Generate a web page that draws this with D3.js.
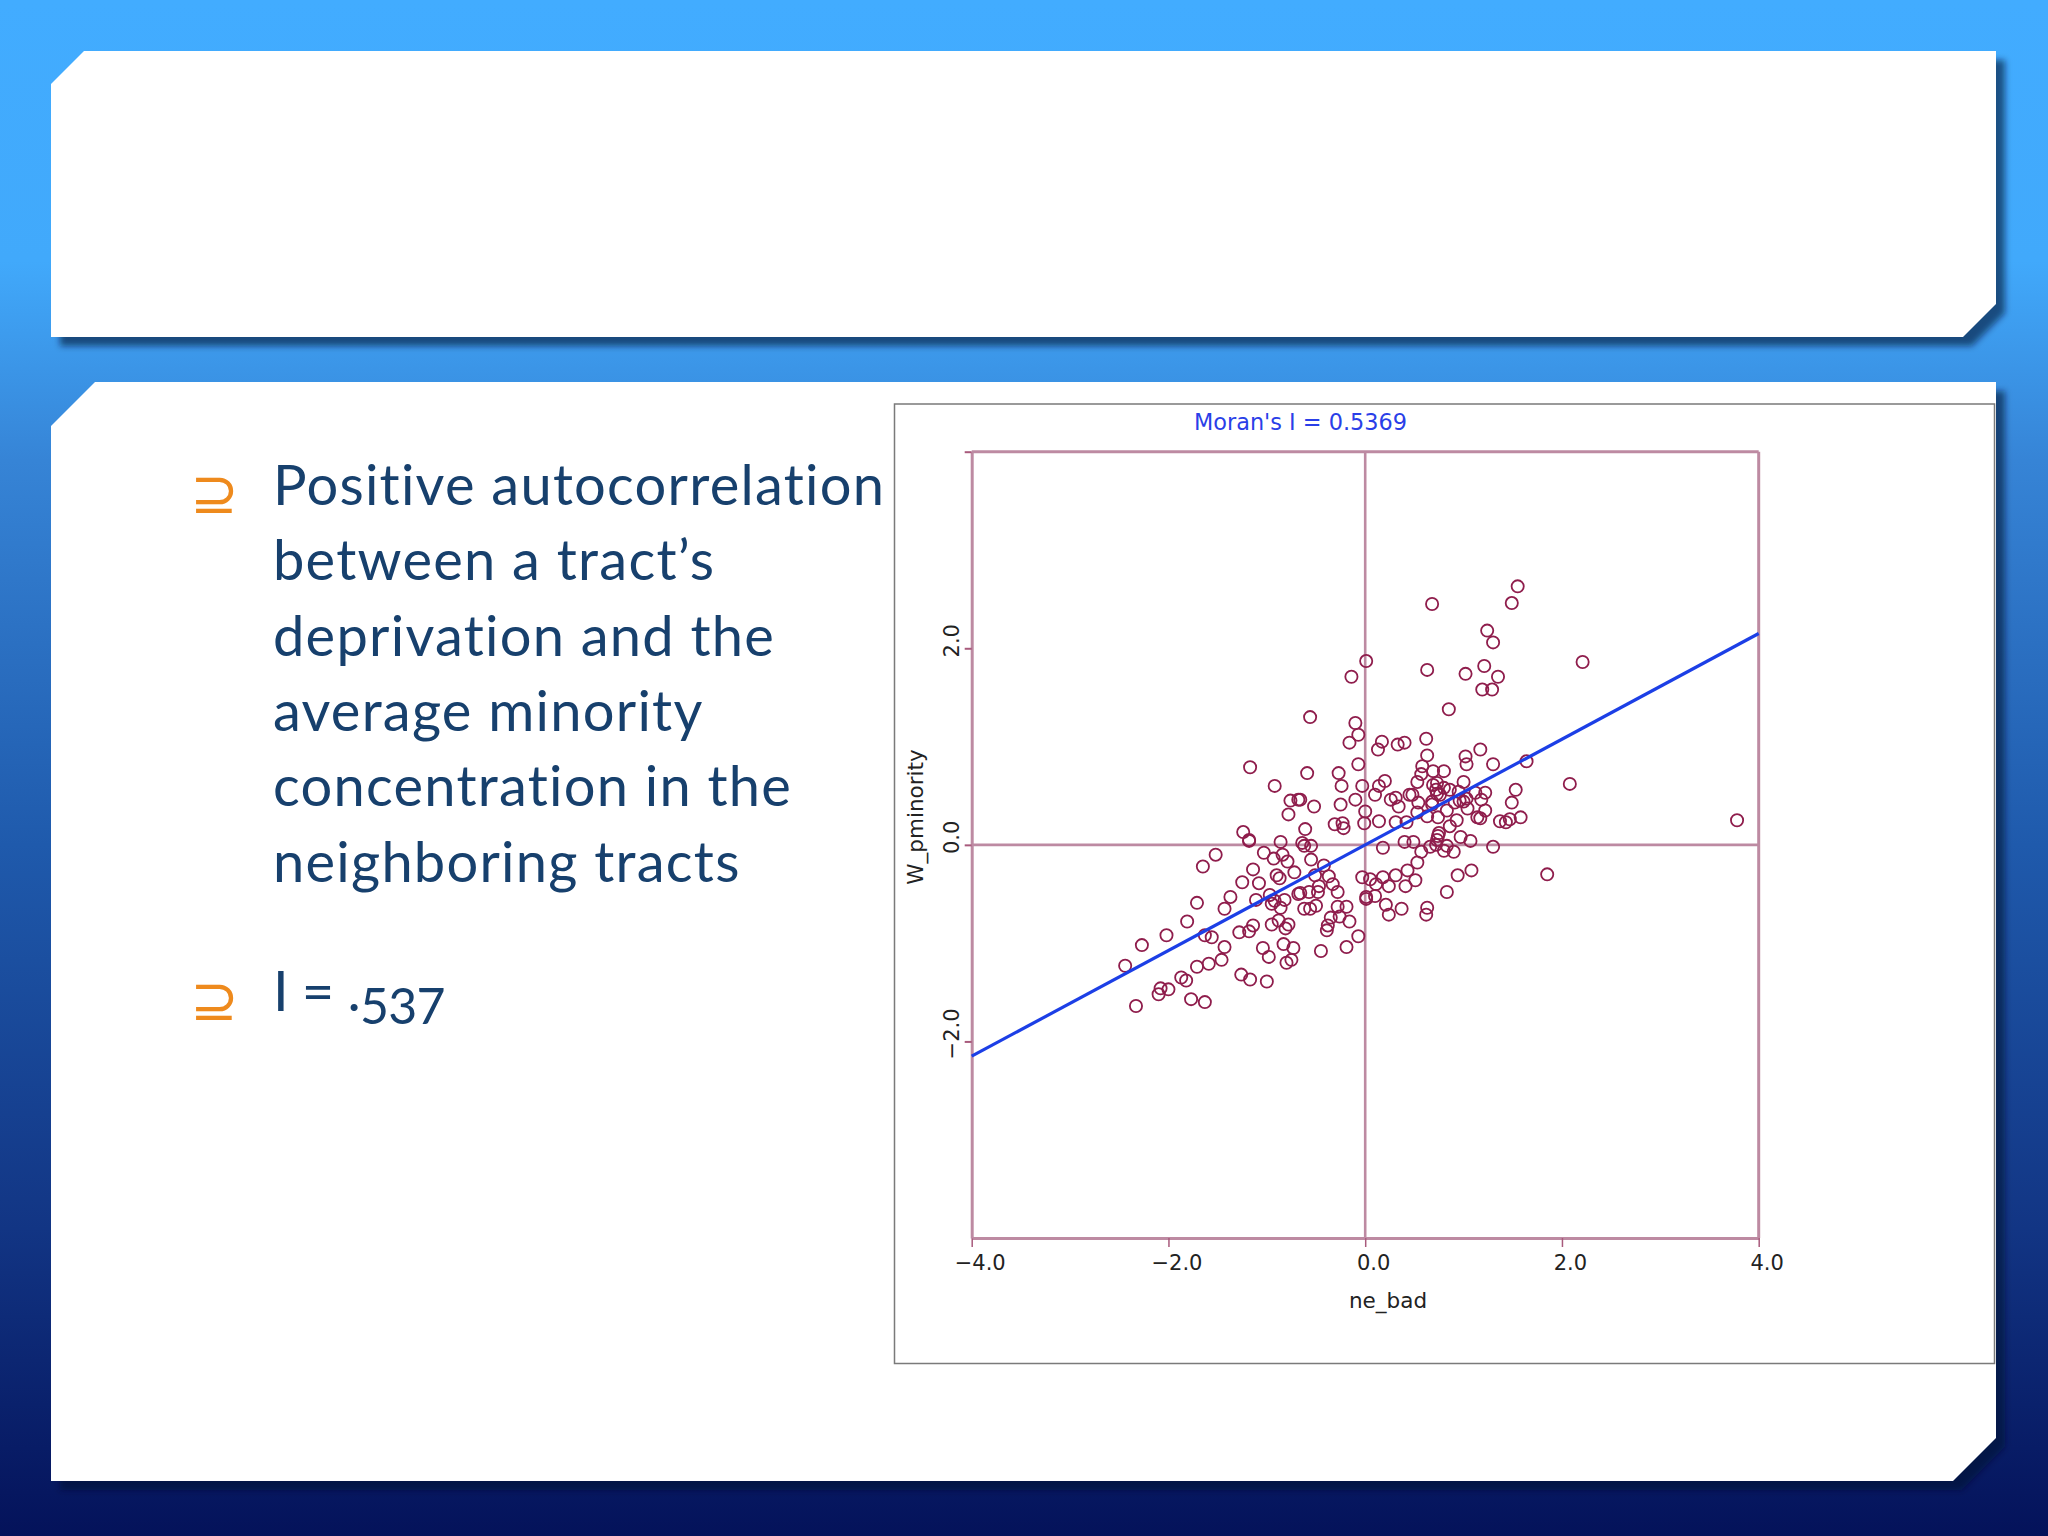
<!DOCTYPE html>
<html>
<head>
<meta charset="utf-8">
<script src="https://cdn.jsdelivr.net/npm/d3@7"></script>
<style>
  html, body { margin: 0; padding: 0; background: #04125a; }
  svg { display: block; }
  .bullet-text { font-family: Lato, "Open Sans", sans-serif; font-size: 56px; letter-spacing: 1.25px; fill: #17406d; }
  .bullet-short { letter-spacing: -0.6px; }
  .bullet-digits { font-size: 50px; letter-spacing: -0.8px; }
  .bullet-mark { font-family: "DejaVu Sans", sans-serif; font-size: 58px; fill: #ee8a1d; }
  .plot-text { font-family: "DejaVu Sans", sans-serif; fill: #222; }
</style>
</head>
<body>
<div id="main-container"></div>
<script>
const title = "Moran's I = 0.5369";
const xLabel = "ne_bad";
const yLabel = "W_pminority";
const xTicks = [-4, -2, 0, 2, 4];
const yTicks = [-2, 0, 2, 4];
const yTickLabels = [-2, 0, 2];
const fitX = [-4, 4];
const fitY = [-2.15, 2.15];

const bulletLines = [
  "Positive autocorrelation",
  "between a tract\u2019s",
  "deprivation and the",
  "average minority",
  "concentration in the",
  "neighboring tracts"
];

const neBad = [
  1.55, 1.49, 0.68, 1.24, 1.30, 0.01, -0.14, 0.63, 1.02, 1.21,
  1.35, 1.19, 1.29, 2.21, 0.85, -0.56, -0.10, -0.07, -0.16, 0.17,
  0.13, 0.33, 0.40, 0.62, 0.63, 1.17, 1.02, 1.03, 1.30, 1.64,
  2.08, 3.78, 1.85, -0.07, -0.59, -0.27, -0.24, -0.03, 0.20, 0.14,
  0.58, 0.57, 0.69, 0.80, 0.53, 0.73, 0.80, 1.00, 0.72, 0.10,
  0.31, 0.26, -0.10, -0.25, -0.52, -0.66, 0.34, 0.45, 0.48, 0.54,
  0.68, 0.53, 0.63, 0.74, 0.83, 0.91, 0.96, 1.00, 1.04, 1.12,
  1.22, 1.18, 1.22, 1.14, 1.17, 0.93, 0.86, 0.75, 0.74, 0.97,
  1.07, 1.49, 1.53, 1.37, 1.43, 1.47, 1.58, 1.30, 0.90, 0.80,
  0.83, 0.72, 0.66, 0.57, 0.53, 0.40, 0.49, 0.18, 0.00, -0.01,
  0.14, 0.31, 0.42, -0.31, -0.23, -0.22, -0.61, -0.03, 0.05, 0.11,
  0.18, 0.24, 0.31, 0.43, 0.51, 0.41, 0.94, 1.08, 0.83, 0.01,
  0.01, 0.10, 0.21, 0.37, 0.24, 0.63, 0.62, -0.07, -0.19, -0.45,
  -0.16, -0.19, -0.28, -0.26, -0.35, -0.38, -0.39, -0.28, -0.33, -0.37,
  -0.42, -0.47, -0.51, -0.55, -0.55, -0.64, -0.62, -0.62, -0.56, -0.50,
  -0.57, -0.48, -0.66, -1.17, -0.92, -0.76, -0.68, -0.78, -1.24, -1.18,
  -1.18, -0.86, -1.03, -1.52, -1.65, -0.93, -0.84, -0.79, -1.14, -0.90,
  -0.87, -0.72, -1.25, -1.08, -1.37, -1.43, -1.71, -1.81, -2.02, -2.27,
  -2.44, -1.63, -1.56, -1.11, -0.97, -0.95, -0.92, -0.82, -0.86, -0.68,
  -0.95, -0.88, -0.78, -0.81, -1.14, -1.18, -1.28, -1.43, -1.46, -1.59,
  -1.71, -1.87, -1.82, -1.04, -0.98, -0.83, -0.73, -0.80, -0.75, -1.26,
  -1.17, -1.00, -2.08, -2.00, -2.10, -2.33, -1.77, -1.63,
  0.69, 0.76, 0.68, 0.95, 1.03, 0.73, 0.73, 0.86
];

const wPminority = [
  2.63, 2.46, 2.45, 2.18, 2.06, 1.87, 1.71, 1.78, 1.74, 1.82,
  1.71, 1.58, 1.58, 1.86, 1.38, 1.30, 1.24, 1.12, 1.04, 1.05,
  0.97, 1.02, 1.04, 1.08, 0.91, 0.97, 0.90, 0.82, 0.82, 0.85,
  0.62, 0.25, -0.30, 0.82, 0.73, 0.73, 0.60, 0.60, 0.65, 0.60,
  0.80, 0.72, 0.75, 0.75, 0.64, 0.63, 0.58, 0.64, 0.56, 0.51,
  0.48, 0.46, 0.46, 0.41, 0.39, 0.46, 0.39, 0.51, 0.51, 0.43,
  0.41, 0.33, 0.29, 0.28, 0.35, 0.43, 0.45, 0.44, 0.37, 0.53,
  0.53, 0.46, 0.35, 0.28, 0.27, 0.25, 0.19, 0.12, 0.09, 0.08,
  0.04, 0.43, 0.56, 0.24, 0.23, 0.26, 0.28, -0.02, -0.07, -0.06,
  -0.01, 0.00, -0.02, -0.07, -0.18, 0.03, 0.03, -0.03, 0.34, 0.22,
  0.24, 0.23, 0.23, 0.21, 0.22, 0.17, 0.16, -0.33, -0.35, -0.40,
  -0.33, -0.42, -0.31, -0.26, -0.36, -0.42, -0.31, -0.26, -0.48, -0.53,
  -0.55, -0.52, -0.61, -0.65, -0.71, -0.64, -0.71, -0.93, -1.04, -1.08,
  -0.78, -0.63, -0.63, -0.73, -0.74, -0.82, -0.87, -0.48, -0.40, -0.32,
  -0.21, -0.42, -0.31, -0.15, -0.01, 0.02, -0.01, -0.65, -0.65, -0.62,
  -0.48, -0.48, -0.49, 0.79, 0.60, 0.45, 0.46, 0.31, 0.13, 0.05,
  0.04, 0.03, -0.08, -0.10, -0.22, -0.14, -0.10, -0.17, -0.25, -0.31,
  -0.34, -0.28, -0.38, -0.39, -0.53, -0.65, -0.59, -0.78, -0.92, -1.02,
  -1.23, -0.92, -0.94, -0.56, -0.51, -0.60, -0.57, -0.56, -0.64, -0.50,
  -0.81, -0.77, -0.81, -0.85, -0.82, -0.88, -0.89, -1.04, -1.17, -1.21,
  -1.24, -1.35, -1.38, -1.05, -1.14, -1.01, -1.05, -1.20, -1.17, -1.32,
  -1.37, -1.39, -1.46, -1.47, -1.52, -1.64, -1.57, -1.60,
  0.61, 0.51, 0.44, 0.54, 0.47, 0.05, 0.52, 0.56
];

const axisColor = "#bd8aa2";
const pointColor = "#8f1d4c";
const width = 2048, height = 1536;

const svg = d3.select("#main-container")
              .append("svg")
              .attr("width", width)
              .attr("height", height);

// slide background and the two white cards
const defs = svg.append("defs");
const bg = defs.append("linearGradient")
               .attr("id", "bg")
               .attr("x1", 0).attr("y1", 0).attr("x2", 0).attr("y2", 1);
const bgStops = [[0, "#42acff"], [0.17, "#41a9fb"], [0.3, "#3684d6"], [0.55, "#1f5aac"], [0.8, "#123584"], [1, "#04125a"]];
for (const s of bgStops) {
  bg.append("stop").attr("offset", s[0]).attr("stop-color", s[1]);
}
defs.append("filter").attr("id", "soft")
    .attr("x", "-5%").attr("y", "-5%").attr("width", "110%").attr("height", "110%")
    .append("feGaussianBlur").attr("stdDeviation", 3);

svg.append("rect").attr("width", width).attr("height", height).attr("fill", "url(#bg)");

const cards = [
  "51,84 84,51 1996,51 1996,304 1963,337 51,337",
  "51,426 95,382 1996,382 1996,1438 1953,1481 51,1481"
];
for (const points of cards) {
  svg.append("polygon").attr("points", points)
     .attr("transform", "translate(9,9)")
     .attr("fill", "#000b30").attr("fill-opacity", 0.6)
     .attr("filter", "url(#soft)");
  svg.append("polygon").attr("points", points).attr("fill", "#fff");
}

// left hand bullet text
const textG = svg.append("g");
textG.selectAll(".bullet-line")
     .data(bulletLines)
     .enter().append("text")
     .attr("class", "bullet-text bullet-line")
     .attr("x", 273)
     .attr("y", (d, i) => 505 + i * 75.3)
     .text((d) => d);

const moran = textG.append("text").attr("class", "bullet-text bullet-short").attr("x", 273).attr("y", 1011);
moran.append("tspan").text("I = .");
moran.append("tspan").attr("class", "bullet-digits").attr("dy", 13).text("537");

textG.selectAll(".bullet-mark")
     .data([513, 1020])
     .enter().append("text")
     .attr("class", "bullet-mark")
     .attr("x", 190)
     .attr("y", (d) => d)
     .text("\u2287");

// chart frame
svg.append("rect")
   .attr("x", 894.5).attr("y", 404)
   .attr("width", 1100).attr("height", 959.5)
   .attr("fill", "#fff")
   .attr("stroke", "#7a7a7a").attr("stroke-width", 1.5);

const x = d3.scaleLinear().domain([-4, 4]).range([971.7, 1758.7]);
const y = d3.scaleLinear().domain([-4, 4]).range([1238, 451.7]);
const fmt = d3.format(".1f");

const xAxis = svg.append("g")
                 .attr("transform", `translate(0, ${y(-4)})`)
                 .call(d3.axisBottom(x).tickValues(xTicks).tickSize(9).tickSizeOuter(0).tickFormat(fmt));
const yAxis = svg.append("g")
                 .attr("transform", `translate(${x(-4)}, 0)`)
                 .call(d3.axisLeft(y).tickValues(yTicks).tickSize(7).tickSizeOuter(0)
                         .tickFormat((d) => yTickLabels.includes(d) ? fmt(d) : ""));

xAxis.select(".domain").attr("stroke", axisColor).attr("stroke-width", 3);
yAxis.select(".domain").attr("stroke", axisColor).attr("stroke-width", 3);
xAxis.selectAll(".tick line").attr("stroke", "#a85a7c").attr("stroke-width", 1.5);
yAxis.selectAll(".tick line").attr("stroke", "#a85a7c").attr("stroke-width", 2);

xAxis.selectAll(".tick text")
     .attr("class", "plot-text")
     .style("font-size", "21px")
     .attr("dx", 8)
     .attr("y", 17);
// d3 puts each label at its tick, so rotating around the tick is enough
yAxis.selectAll(".tick text")
     .attr("class", "plot-text")
     .style("font-size", "21px")
     .attr("text-anchor", "middle")
     .attr("transform", "rotate(-90)")
     .attr("x", 8)
     .attr("y", -13)
     .attr("dy", 0);

// top and right sides, and the cross through the origin
const frameLines = [
  {x1: -4, y1: 4, x2: 4, y2: 4, w: 3},
  {x1: 4, y1: -4, x2: 4, y2: 4, w: 3},
  {x1: 0, y1: -4, x2: 0, y2: 4, w: 2.6},
  {x1: -4, y1: 0, x2: 4, y2: 0, w: 2.6}
];
svg.selectAll(".frame-line")
   .data(frameLines)
   .enter().append("line")
   .attr("class", "frame-line")
   .attr("x1", (d) => x(d.x1)).attr("y1", (d) => y(d.y1))
   .attr("x2", (d) => x(d.x2)).attr("y2", (d) => y(d.y2))
   .attr("stroke", axisColor)
   .attr("stroke-width", (d) => d.w);

// tract points
svg.selectAll(".tract")
   .data(d3.range(neBad.length))
   .enter().append("circle")
   .attr("class", "tract")
   .attr("cx", (i) => x(neBad[i]))
   .attr("cy", (i) => y(wPminority[i]))
   .attr("r", 6.1)
   .attr("fill", "none")
   .attr("stroke", pointColor)
   .attr("stroke-width", 1.8);

// regression line
const fit = d3.line().x((d) => x(d)).y((d, i) => y(fitY[i]));
svg.append("path")
   .attr("d", fit(fitX))
   .attr("fill", "none")
   .attr("stroke", "#1c3fe6")
   .attr("stroke-width", 3.2);

// chart titles
svg.append("text")
   .attr("x", 1300.5).attr("y", 430)
   .attr("text-anchor", "middle")
   .style("font-family", "'DejaVu Sans', sans-serif")
   .style("font-size", "22.4px")
   .attr("fill", "#2a3fe8")
   .text(title);
svg.append("text")
   .attr("class", "plot-text")
   .attr("x", 1388).attr("y", 1308)
   .attr("text-anchor", "middle")
   .style("font-size", "21.5px")
   .text(xLabel);
svg.append("text")
   .attr("class", "plot-text")
   .attr("transform", "translate(923, 817) rotate(-90)")
   .attr("text-anchor", "middle")
   .style("font-size", "21.5px")
   .text(yLabel);
</script>
</body>
</html>
